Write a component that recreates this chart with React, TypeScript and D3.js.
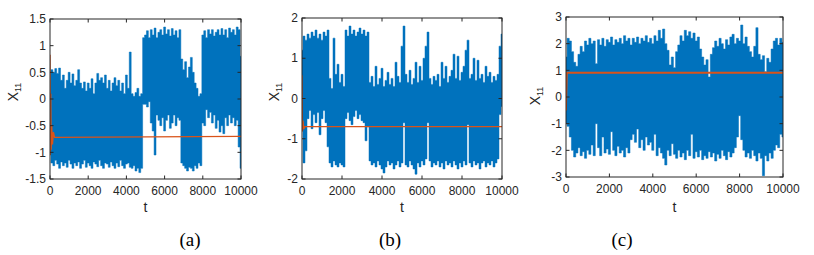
import React from "react";
import * as d3 from "d3";

// samples every T_STEP along t, upper / lower envelope of the noisy X11 trace
const T_STEP = 100;
const xTicks = [0, 2000, 4000, 6000, 8000, 10000];

const yTicksA = [-1.5, -1, -0.5, 0, 0.5, 1, 1.5];
const yTicksB = [-2, -1, 0, 1, 2];
const yTicksC = [-3, -2, -1, 0, 1, 2, 3];

const hiA = [
  0.1, 0.55, 0.5, 0.57, 0.48, 0.58, 0.35, 0.45, 0.2, 0.35,
  0.5, 0.3, 0.47, 0.25, 0.35, 0.55, 0.3, 0.2, 0.32, 0.15,
  0.3, 0.2, 0.38, 0.1, 0.3, 0.48, 0.35, 0.4, 0.3, 0.45,
  0.2, 0.35, 0.15, 0.3, 0.4, 0.25, 0.35, 0.15, 0.3, 0.1,
  0.45, 0.2, 0.88, 0.1, 0.05, 0.12, 0.2, 0.05, 0.1, 1.15,
  1.2, 1.28, 1.15, 1.3, 1.2, 1.33, 1.15, 1.25, 1.3, 1.2,
  1.35, 1.22, 1.3, 1.18, 1.32, 1.2, 1.28, 1.15, 1.3, 0.75,
  0.55, 0.7, 0.4, 0.6, 0.78, 0.5, 0.3, 0.2, 0.05, 0.1,
  1.2, 1.28, 1.15, 1.3, 1.22, 1.3, 1.18, 1.25, 1.3, 1.2,
  1.32, 1.2, 1.3, 1.15, 1.33, 1.25, 1.3, 1.2, 1.35, 1.3,
  0.8,
];
const loA = [
  -1.05, -1.2, -1.25, -1.15, -1.22, -1.3, -1.18, -1.25, -1.2, -1.28,
  -1.15, -1.22, -1.3, -1.2, -1.25, -1.18, -1.3, -1.22, -1.15, -1.28,
  -1.2, -1.25, -1.3, -1.18, -1.22, -1.27, -1.15, -1.25, -1.3, -1.2,
  -1.22, -1.28, -1.18, -1.25, -1.3, -1.2, -1.27, -1.15, -1.25, -1.3,
  -1.22, -1.2, -1.28, -1.3, -1.25, -1.35, -1.3, -1.38, -1.3, -0.1,
  -0.1, -0.15, -0.05, -0.45, -0.6, -1.05, -0.3, -0.4, -0.5, -0.35,
  -0.6, -0.4, -0.3, -0.55, -0.45, -0.3, -0.5, -0.35, -0.4, -1.2,
  -1.25, -1.3, -1.35, -1.28, -1.3, -1.35, -1.25, -1.3, -1.2, -1.25,
  -0.45, -0.5, -0.2, -0.35, -0.25, -0.45, -0.3, -0.55, -0.4, -0.62,
  -0.5, -0.65, -0.35, -0.5, -0.3, -0.45, -0.35, -0.5, -0.4, -0.9,
  -1.3,
];
const eqTA = [0, 20, 40, 60, 90, 130, 180, 240, 10000];
const eqVA = [0.83, -1.05, 0.1, -0.95, -0.5, -0.85, -0.62, -0.72, -0.7];

const hiB = [
  1.2, 1.55, 1.45, 1.6, 1.5, 1.65, 1.55, 1.7, 1.5, 1.6,
  1.45, 1.65, 1.55, 1.7, 0.5, 0.25, 1.5, 0.6, 0.85, 0.4,
  0.6, 0.3, 1.7, 1.55, 1.8, 1.6, 1.7, 1.55, 1.65, 1.75,
  1.6, 1.7, 1.55, 1.65, 0.4, 0.55, 0.3, 0.8, 0.35, 0.5,
  0.75, 0.3, 0.45, 0.65, 0.35, 0.5, 0.3, 0.9, 0.55, 0.4,
  1.3, 1.8, 0.6, 0.4, 0.7, 0.35, 0.5, 0.9, 0.4, 0.8,
  0.45, 1.0, 1.3, 1.65, 0.5, 0.35, 0.55, 0.45, 0.6, 0.3,
  0.9, 0.5, 0.8, 0.4, 0.55, 0.7, 1.1, 0.5, 1.05, 0.45,
  0.65, 0.8, 1.2, 1.45, 0.5, 0.6, 1.0, 0.45, 0.95, 0.5,
  0.6, 0.4, 0.8, 0.55, 0.65, 0.4, 0.55, 0.45, 0.6, 1.3,
  1.6,
];
const loB = [
  -0.8, -1.6, -1.3, -0.5, -0.3, -0.75, -0.4, -0.6, -0.35, -0.9,
  -0.5, -0.3, -0.6, -1.2, -1.6, -1.7, -1.55, -1.65, -1.7, -1.6,
  -1.65, -1.7, -0.5, -0.35, -0.55, -0.65, -0.45, -0.3, -0.5, -0.4,
  -0.55, -0.6, -1.05, -0.7, -1.55, -1.65, -1.6, -1.7, -1.55, -1.65,
  -1.75, -1.85, -1.7, -1.55, -1.65, -1.6, -1.75, -1.65, -1.55, -1.7,
  -1.6, -0.6, -1.65, -1.7, -1.55, -1.65, -1.75, -1.88, -1.6, -1.7,
  -1.55, -1.65, -1.5, -0.6, -1.55, -1.7, -1.6, -1.65, -1.55, -1.7,
  -1.6, -1.75, -1.55, -1.65, -1.6, -1.7, -1.55, -1.65, -1.75, -1.6,
  -1.7, -1.55, -1.65, -0.65, -1.6, -1.7, -1.55, -1.65, -1.6, -1.75,
  -1.6, -1.55, -1.7, -1.6, -1.65, -1.55, -1.7, -1.6, -1.5, -0.4,
  -0.2,
];
const eqTB = [0, 20, 50, 90, 140, 10000];
const eqVB = [0.58, -0.82, -0.55, -0.76, -0.7, -0.7];

const hiC = [
  1.5, 2.2, 2.1, 1.7, 1.3, 1.15, 1.6, 1.9, 1.7, 2.1,
  1.95, 2.2, 2.0, 2.1, 1.25, 2.15, 1.95, 2.2, 1.9, 2.15,
  2.05, 2.25, 1.95, 2.15, 2.05, 2.2, 2.0, 2.3, 2.1, 2.2,
  1.95, 2.2, 2.05, 2.25, 2.0, 2.2, 2.1, 2.3, 2.05, 2.2,
  2.0, 2.3, 2.1, 2.5, 2.2, 2.55, 2.0, 1.75, 1.2, 1.5,
  1.1, 1.7, 1.95, 2.3, 2.1, 2.5, 2.3, 2.45, 2.2, 2.4,
  2.1, 2.25, 1.8, 1.5, 1.2, 1.4, 0.75, 1.6, 1.85, 2.1,
  1.9, 2.2, 2.0, 1.8, 2.15, 1.95, 2.25, 2.35, 2.0, 2.2,
  2.1, 2.7, 2.0, 2.25, 1.9, 1.7, 1.5, 1.9, 2.6, 1.6,
  1.4, 1.55, 0.95, 1.45, 1.3, 1.8, 2.1, 2.2, 1.95, 2.2,
  2.05,
];
const loC = [
  -1.0, -1.1, -1.5, -2.0, -2.25, -2.1, -1.9, -2.2, -2.05, -2.3,
  -2.0, -2.15, -1.8, -2.2, -1.0, -1.9, -2.2, -1.5, -2.1, -1.95,
  -2.15, -1.3, -2.0, -2.2, -1.85, -2.1, -2.0, -2.25, -1.9, -2.1,
  -1.6, -1.4, -1.7, -1.2, -1.9, -1.6, -2.0, -1.5, -1.8, -1.7,
  -2.0, -1.4, -2.2, -1.9, -2.1, -2.3, -2.55, -2.0, -2.2, -1.75,
  -2.15, -2.3, -2.0, -2.25, -2.1, -2.35, -2.0, -2.2, -1.4, -2.3,
  -2.05, -2.25, -2.0, -2.35, -2.2, -2.3, -2.05, -2.25, -2.1, -2.4,
  -2.15, -2.3, -2.0, -2.2, -2.35, -2.05, -2.25, -2.1, -1.9, -1.5,
  -0.7, -1.6, -2.0, -2.25, -2.1, -2.3, -2.0, -2.2, -2.4, -2.1,
  -2.3, -2.95, -2.2, -2.4, -2.1, -2.3, -2.0, -1.8, -1.9, -1.4,
  -1.5,
];
const eqTC = [0, 40, 10000];
const eqVC = [-0.51, 0.91, 0.91];

const BLUE = "#0072BD";
const ORANGE = "#D95319";
const AXIS = "#262626";
const TICK_LEN = 3.5;

type PanelProps = {
  id: string;
  left: number;
  top: number;
  width: number;
  height: number;
  yDomain: [number, number];
  yTicks: number[];
  hi: number[];
  lo: number[];
  eqT: number[];
  eqV: number[];
  eqWidth: number;
  ylabelX: number;
  ylabelY: number;
  caption: string;
  captionX: number;
};

const Panel = (p: PanelProps) => {
  const x = d3.scaleLinear().domain([0, 10000]).range([p.left, p.left + p.width]);
  const y = d3.scaleLinear().domain(p.yDomain).range([p.top + p.height, p.top]);
  const right = p.left + p.width;
  const bottom = p.top + p.height;

  // step curve gives the hard vertical needle edges of the dense trace
  const band = d3
    .area<number>()
    .curve(d3.curveStep)
    .x((_, i) => x(i * T_STEP))
    .y0((_, i) => y(p.lo[i]))
    .y1((d) => y(d));

  const eq = d3
    .line<number>()
    .x((_, i) => x(p.eqT[i]))
    .y((d) => y(d));

  const clipId = "clip-" + p.id;

  return (
    <g>
      <defs>
        <clipPath id={clipId}>
          <rect x={p.left} y={p.top} width={p.width} height={p.height} />
        </clipPath>
      </defs>
      <g clipPath={`url(#${clipId})`}>
        <path d={band(p.hi) || ""} fill={BLUE} stroke={BLUE} strokeWidth={0.5} />
        <path d={eq(p.eqV) || ""} fill="none" stroke={ORANGE} strokeWidth={p.eqWidth} />
      </g>
      <rect x={p.left} y={p.top} width={p.width} height={p.height} fill="none" stroke={AXIS} strokeWidth={1} />
      {xTicks.map((t) => (
        <g key={"x" + t}>
          <line x1={x(t)} x2={x(t)} y1={bottom} y2={bottom - TICK_LEN} stroke={AXIS} />
          <line x1={x(t)} x2={x(t)} y1={p.top} y2={p.top + TICK_LEN} stroke={AXIS} />
          <text x={x(t)} y={bottom + 16} textAnchor="middle" fontSize={12} fill={AXIS}>
            {t}
          </text>
        </g>
      ))}
      {p.yTicks.map((v) => (
        <g key={"y" + v}>
          <line x1={p.left} x2={p.left + TICK_LEN} y1={y(v)} y2={y(v)} stroke={AXIS} />
          <line x1={right} x2={right - TICK_LEN} y1={y(v)} y2={y(v)} stroke={AXIS} />
          <text x={p.left - 4} y={y(v)} dy="0.35em" textAnchor="end" fontSize={12} fill={AXIS}>
            {String(v)}
          </text>
        </g>
      ))}
      <text x={(p.left + right) / 2} y={212} textAnchor="middle" fontSize={14} fill={AXIS}>
        t
      </text>
      <text
        transform={`translate(${p.ylabelX},${p.ylabelY}) rotate(-90)`}
        textAnchor="middle"
        fontSize={14}
        fill={AXIS}
      >
        X
        <tspan fontSize={9} dy={3}>
          11
        </tspan>
      </text>
      <text
        x={p.captionX}
        y={246}
        textAnchor="middle"
        fontSize={19}
        fontFamily="'Liberation Serif', 'Times New Roman', serif"
        fill="#000"
      >
        {p.caption}
      </text>
    </g>
  );
};

export default function App() {
  return (
    <svg
      width={814}
      height={255}
      style={{ position: "absolute", left: 0, top: 0, background: "#fff" }}
      fontFamily="'Liberation Sans', Arial, sans-serif"
    >
      <Panel
        id="a"
        left={50}
        top={19}
        width={191}
        height={160}
        yDomain={[-1.5, 1.5]}
        yTicks={yTicksA}
        hi={hiA}
        lo={loA}
        eqT={eqTA}
        eqV={eqVA}
        eqWidth={1.3}
        ylabelX={17.5}
        ylabelY={92}
        caption="(a)"
        captionX={190}
      />
      <Panel
        id="b"
        left={302}
        top={18}
        width={200}
        height={161}
        yDomain={[-2, 2]}
        yTicks={yTicksB}
        hi={hiB}
        lo={loB}
        eqT={eqTB}
        eqV={eqVB}
        eqWidth={1.3}
        ylabelX={278.5}
        ylabelY={92}
        caption="(b)"
        captionX={390}
      />
      <Panel
        id="c"
        left={566}
        top={17}
        width={217}
        height={160}
        yDomain={[-3, 3]}
        yTicks={yTicksC}
        hi={hiC}
        lo={loC}
        eqT={eqTC}
        eqV={eqVC}
        eqWidth={1.8}
        ylabelX={539.5}
        ylabelY={96}
        caption="(c)"
        captionX={622}
      />
    </svg>
  );
}
